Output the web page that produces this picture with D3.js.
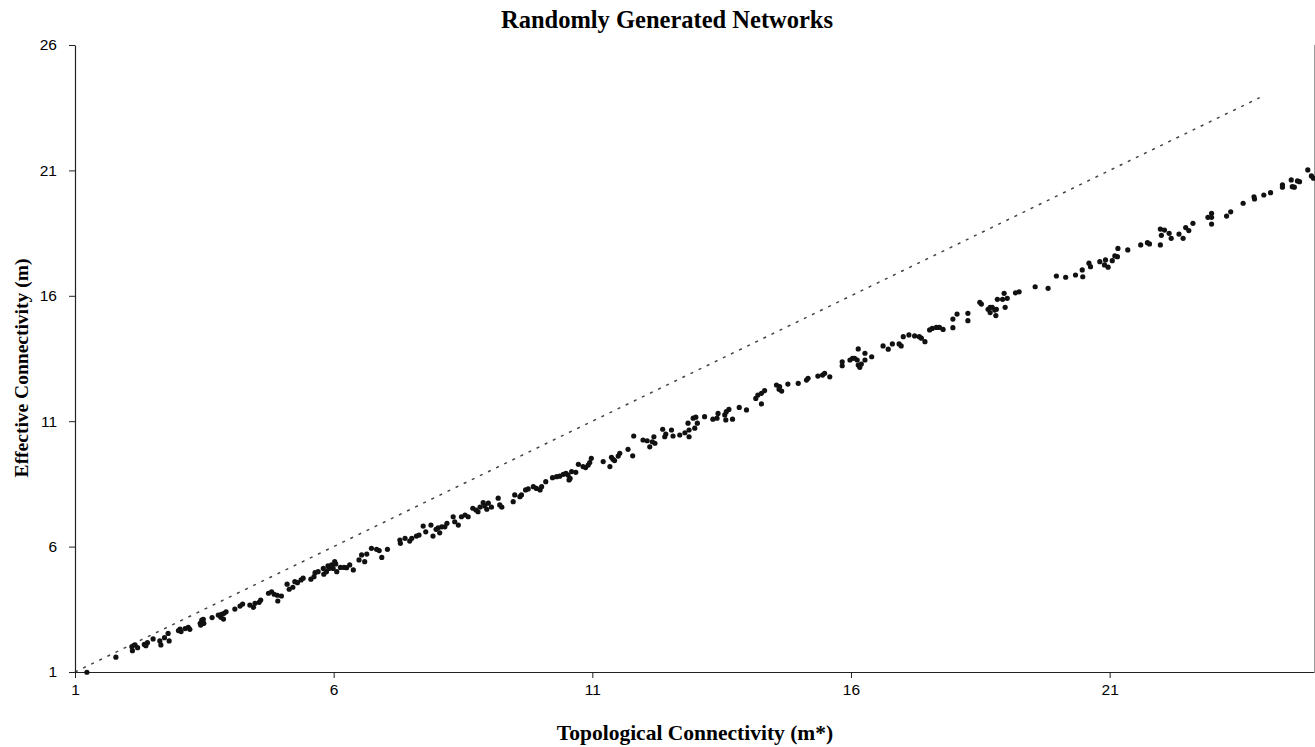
<!DOCTYPE html>
<html><head><meta charset="utf-8">
<script src="https://cdn.jsdelivr.net/npm/d3@7"></script>
<style>body{margin:0;background:#fff}svg{display:block}</style>
</head><body>
<svg id="c" width="1315" height="747"></svg>
<script>
const title = "Randomly Generated Networks";
const xTitle = "Topological Connectivity (m*)";
const yTitle = "Effective Connectivity (m)";
const xTicks = [1, 6, 11, 16, 21];
const yTicks = [1, 6, 11, 16, 21, 26];
const xDomain = [1, 24.95];
const yDomain = [1, 26];
const refLine = [[1, 1], [23.9, 23.9]];

const xs = [1.23,1.79,2.10,2.16,2.21,2.11,2.34,2.40,2.37,2.51,2.64,2.66,2.73,2.80,2.82,3.00,3.05,3.03,3.13,3.19,3.22,3.42,3.48,3.48,3.43,
3.45,3.49,3.65,3.77,3.82,3.87,3.92,3.88,3.83,4.09,4.19,4.24,4.38,4.45,4.48,4.56,4.59,4.74,4.80,4.85,4.91,4.99,4.92,5.10,5.14,5.21,5.25,5.30,5.37,5.41,5.56,5.62,5.64,5.70,5.81,5.86,5.91,
5.80,5.89,5.96,6.02,6.04,5.99,6.06,6.13,6.20,6.25,6.31,6.38,6.49,6.54,6.60,6.64,6.73,6.83,6.88,6.93,7.04,7.28,7.29,7.38,7.47,7.51,7.60,7.65,7.73,7.78,7.88,7.92,7.98,8.02,8.05,8.15,8.19,
8.09,8.31,8.34,8.41,8.47,8.54,8.60,8.69,8.75,8.79,8.83,8.89,8.92,8.99,8.96,9.05,9.18,9.21,9.25,9.47,9.50,9.60,9.63,9.71,9.76,9.86,9.92,9.99,10.02,10.10,10.23,10.31,10.37,10.44,10.49,10.53,10.55,
10.60,10.57,10.68,10.73,10.82,10.87,10.92,10.95,10.98,11.21,11.34,11.37,11.40,11.43,11.50,11.53,11.69,11.78,11.80,11.98,12.06,12.11,12.16,12.19,12.21,12.36,12.40,12.42,12.53,12.56,12.69,12.79,12.85,12.87,12.87,
12.95,13.00,13.03,12.98,13.17,13.33,13.41,13.43,13.56,13.59,13.64,13.58,13.71,13.84,13.98,14.16,14.20,14.27,14.33,14.27,14.56,14.61,14.66,14.62,14.78,14.98,15.14,
15.17,15.36,15.45,15.49,15.59,15.83,15.83,15.98,16.03,16.07,16.12,16.14,16.17,16.20,16.27,16.14,16.27,16.40,16.62,16.72,16.80,16.93,16.97,17.01,17.12,17.23,17.32,17.36,17.43,17.52,
17.57,17.65,17.71,17.78,17.97,17.97,18.05,18.26,18.26,18.49,18.52,18.65,18.69,18.73,18.78,18.81,18.69,18.80,18.83,18.93,18.96,19.02,18.98,19.18,19.25,19.56,19.81,
19.97,20.15,20.34,20.47,20.48,20.60,20.63,20.81,20.90,20.92,20.97,21.05,21.10,21.15,21.16,21.35,21.60,21.73,21.77,21.98,21.98,22.00,22.06,22.15,
22.19,22.34,22.42,22.47,22.53,22.61,22.90,22.97,22.97,22.97,23.26,23.34,23.58,23.79,23.80,23.98,24.11,24.34,24.34,24.51,24.53,24.57,24.63,24.67,24.83,24.90,24.94];

const ys = [0.99,1.59,2.01,2.08,1.97,1.85,2.10,2.17,2.05,2.32,2.24,2.08,2.37,2.54,2.24,2.65,2.61,2.71,2.73,2.78,2.70,2.94,3.10,2.94,2.87,
3.07,2.94,3.17,3.27,3.18,3.11,3.40,3.34,3.30,3.51,3.63,3.71,3.67,3.58,3.74,3.78,3.87,4.14,4.20,4.10,4.06,4.03,3.83,4.50,4.30,4.38,4.60,4.56,4.67,4.74,4.70,4.80,4.96,5.00,4.90,5.00,5.13,
5.13,5.23,5.27,5.40,5.31,5.13,5.00,5.17,5.17,5.16,5.27,5.07,5.47,5.67,5.40,5.70,5.93,5.89,5.84,5.57,5.89,6.26,6.13,6.33,6.22,6.33,6.42,6.46,6.82,6.59,6.86,6.42,6.69,6.75,6.55,6.79,6.93,
6.79,7.19,6.99,6.86,7.19,7.26,7.19,7.53,7.46,7.39,7.57,7.75,7.62,7.73,7.49,7.57,7.93,7.66,7.57,7.79,8.06,7.99,8.06,8.26,8.30,8.39,8.32,8.26,8.39,8.59,8.75,8.79,8.81,8.88,8.92,8.85,8.66,
8.99,8.72,8.96,9.28,9.19,9.15,9.25,9.35,9.52,9.39,9.19,9.56,9.48,9.43,9.61,9.72,9.88,9.62,10.41,10.25,10.22,9.98,10.18,10.38,10.12,10.68,10.38,10.49,10.65,10.41,10.45,10.54,10.92,10.65,10.38,
11.12,11.16,10.92,10.72,11.18,11.08,11.12,11.31,11.25,11.38,11.47,11.05,11.08,11.55,11.45,11.91,12.04,12.11,12.22,11.69,12.44,12.27,12.20,12.38,12.48,12.51,12.64,
12.71,12.80,12.84,12.91,12.77,13.37,13.21,13.44,13.51,13.51,13.44,13.24,13.15,13.28,13.44,13.88,13.71,13.57,14.00,13.87,14.08,14.08,14.00,14.37,14.44,14.40,14.37,14.31,14.17,14.64,
14.70,14.74,14.74,14.66,14.73,15.07,15.27,15.30,15.01,15.74,15.67,15.46,15.54,15.54,15.43,15.46,15.33,15.21,15.86,15.86,16.10,15.90,15.54,16.12,16.16,16.36,16.30,
16.79,16.74,16.83,17.03,16.76,17.30,17.16,17.36,17.23,17.43,17.14,17.40,17.59,17.56,17.89,17.83,18.03,18.12,18.07,18.03,18.66,18.41,18.62,18.49,
18.29,18.46,18.29,18.72,18.60,18.89,19.13,19.29,19.13,18.86,19.18,19.35,19.69,19.95,19.86,20.02,20.11,20.42,20.33,20.62,20.35,20.33,20.58,20.55,21.02,20.78,20.69];

const points = xs.map((x, i) => ({x, y: ys[i]}));

const L = 75, R = 1314, T = 45, B = 672;
const svg = d3.select("#c");
const x = d3.scaleLinear().domain(xDomain).range([L, R]);
const y = d3.scaleLinear().domain(yDomain).range([B, T]);

// right frame line
svg.append("line").attr("x1", R + 0.5).attr("x2", R + 0.5).attr("y1", T).attr("y2", B)
  .attr("stroke", "#9a9a9a").attr("stroke-width", 1);

// reference dashed line
svg.append("line")
  .attr("x1", x(refLine[0][0])).attr("y1", y(refLine[0][1]))
  .attr("x2", x(refLine[1][0])).attr("y2", y(refLine[1][1]))
  .attr("stroke", "#444").attr("stroke-width", 1.5).attr("stroke-dasharray", "3,6");

// axes
const xAxis = d3.axisBottom(x).tickValues(xTicks).tickSize(6).tickSizeOuter(0).tickPadding(6);
const yAxis = d3.axisLeft(y).tickValues(yTicks).tickSize(6).tickSizeOuter(0).tickPadding(12);
const gx = svg.append("g").attr("transform", `translate(0,${B})`).call(xAxis);
const gy = svg.append("g").attr("transform", `translate(${L},0)`).call(yAxis);
[gx, gy].forEach(g => {
  g.select(".domain").attr("stroke", "#222").attr("stroke-width", 1.2);
  g.selectAll(".tick line").attr("stroke", "#222");
  g.selectAll(".tick text").attr("fill", "#000")
    .style("font-family", "'Liberation Sans', Arial, sans-serif").style("font-size", "15.5px");
});

// points
svg.append("g").selectAll("circle").data(points).join("circle")
  .attr("cx", d => x(d.x)).attr("cy", d => y(d.y)).attr("r", 2.6).attr("fill", "#111");

// titles
const serif = "'Liberation Serif', 'Times New Roman', serif";
svg.append("text").attr("x", 667).attr("y", 28).attr("text-anchor", "middle")
  .style("font-family", serif).style("font-weight", "bold").style("font-size", "24.5px").text(title);
svg.append("text").attr("x", 695).attr("y", 740).attr("text-anchor", "middle")
  .style("font-family", serif).style("font-weight", "bold").style("font-size", "21.5px").text(xTitle);
svg.append("text").attr("transform", "translate(28,368) rotate(-90)").attr("text-anchor", "middle")
  .style("font-family", serif).style("font-weight", "bold").style("font-size", "19.5px").text(yTitle);
</script>
</body></html>
